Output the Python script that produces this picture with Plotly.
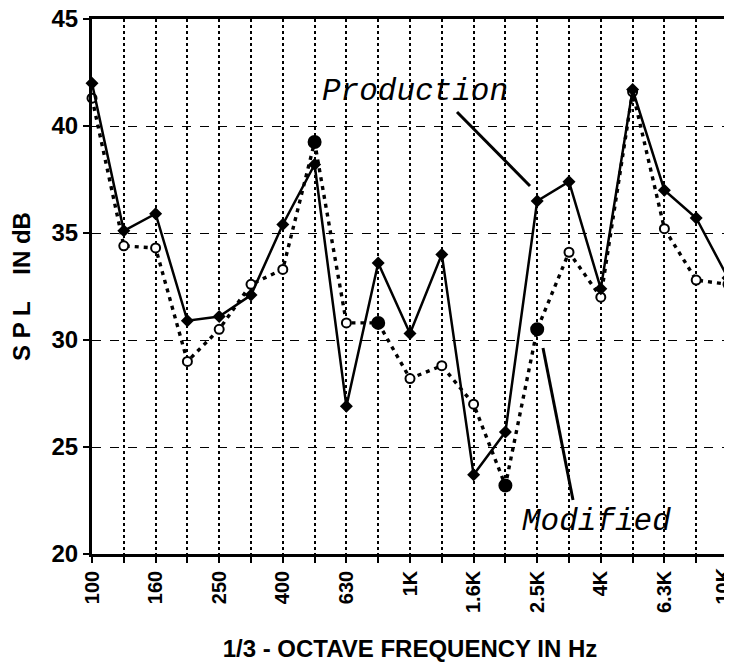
import plotly.graph_objects as go

# ---- data ----
frequencies = ["100", "125", "160", "200", "250", "315", "400", "500", "630", "800",
               "1K", "1.25K", "1.6K", "2K", "2.5K", "3.15K", "4K", "5K", "6.3K", "8K", "10K"]
tick_labels = ["100", "", "160", "", "250", "", "400", "", "630", "",
               "1K", "", "1.6K", "", "2.5K", "", "4K", "", "6.3K", "", "10K"]
production_spl = [42.0, 35.1, 35.9, 30.9, 31.1, 32.1, 35.4, 38.2, 26.9, 33.6,
                  30.3, 34.0, 23.7, 25.7, 36.5, 37.4, 32.4, 41.7, 37.0, 35.7, 32.9]
modified_spl = [41.3, 34.4, 34.3, 29.0, 30.5, 32.6, 33.3, 39.25, 30.8, 30.8,
                28.2, 28.8, 27.0, 23.2, 30.5, 34.1, 32.0, 41.6, 35.2, 32.8, 32.6]
modified_filled = ["500", "800", "2K", "2.5K"]
y_ticks = [20, 25, 30, 35, 40, 45]

# ---- layout geometry ----
# The page body adds an 8 px offset, so the figure is 8 px smaller than the window.
OFF = 8
W, H = 732 - OFF, 662 - OFF
ML, MT = 92 - OFF, 19 - OFF
MR = 4
MB = H - (554 - OFF)
PW, PH = W - ML - MR, H - MT - MB


def px(x):
    """page x pixel -> paper fraction"""
    return (x - OFF - ML) / PW


def py(y):
    """page y pixel -> paper fraction"""
    return (H - MB - (y - OFF)) / PH


mod_fill = ["black" if f in modified_filled else "white" for f in frequencies]
mod_size = [12 if f in modified_filled else 9 for f in frequencies]

fig = go.Figure()
fig.add_trace(go.Scatter(
    x=frequencies, y=modified_spl, mode="lines+markers",
    line=dict(color="black", width=3.4, dash="4px,5px"),
    marker=dict(symbol="circle", size=mod_size, color=mod_fill, opacity=1,
                line=dict(color="black", width=2)),
    cliponaxis=False, showlegend=False, name="Modified"))
fig.add_trace(go.Scatter(
    x=frequencies, y=production_spl, mode="lines+markers",
    line=dict(color="black", width=2.5),
    marker=dict(symbol="diamond", size=10, color="black", opacity=1),
    cliponaxis=False, showlegend=False, name="Production"))

bold = dict(family="Liberation Sans, Arial, sans-serif", color="black", weight="bold")

# the last label sits at the page edge; it is nudged inward as in the original
shown_ticktext = tick_labels[:-1] + [""]

fig.update_layout(
    width=W, height=H,
    margin=dict(l=ML, r=MR, t=MT, b=MB, pad=0, autoexpand=False),
    paper_bgcolor="white", plot_bgcolor="white",
    xaxis=dict(
        type="category", categoryorder="array", categoryarray=frequencies,
        range=[0, len(frequencies) - 1], automargin=False,
        tickmode="array", tickvals=frequencies, ticktext=shown_ticktext,
        tickangle=-90, tickfont=dict(size=20, **bold), ticklabeloverflow="allow",
        ticks="outside", ticklen=6, tickwidth=2, tickcolor="black",
        showgrid=True, gridcolor="black", gridwidth=2, griddash="dot",
        showline=True, linecolor="black", linewidth=2.5, mirror=True,
        title=dict(text="1/3 - OCTAVE FREQUENCY IN Hz", font=dict(size=24, **bold), standoff=29),
        zeroline=False,
    ),
    yaxis=dict(
        range=[20, 45], tickmode="array", tickvals=y_ticks, automargin=False,
        tickfont=dict(size=24, **bold), ticklabeloverflow="allow",
        ticks="outside", ticklen=6, tickwidth=2, tickcolor="black",
        showgrid=True, gridcolor="black", gridwidth=1.3, griddash="dash",
        showline=True, linecolor="black", linewidth=3, mirror=True,
        title=dict(text="S P L&nbsp;&nbsp;&nbsp;&nbsp;IN dB", font=dict(size=24, **bold), standoff=18),
        zeroline=False,
    ),
    font=dict(family="Liberation Sans, Arial, sans-serif", color="black"),
)

fig.add_annotation(text=tick_labels[-1], xref="paper", yref="paper",
                   x=px(722), y=py(566), textangle=-90, showarrow=False,
                   font=dict(size=20, **bold), xanchor="center", yanchor="top")

# annotation labels and leader lines
mono = dict(family="Liberation Mono, Courier New, monospace", size=31, color="black", style="italic")
fig.add_annotation(text="Production", xref="paper", yref="paper",
                   x=px(415), y=py(92), showarrow=False, font=mono,
                   xanchor="center", yanchor="middle")
fig.add_annotation(text="Modified", xref="paper", yref="paper",
                   x=px(596), y=py(521), showarrow=False, font=mono,
                   xanchor="center", yanchor="middle")
fig.add_shape(type="line", xref="paper", yref="paper",
              x0=px(457), y0=py(112), x1=px(530), y1=py(186),
              line=dict(color="black", width=3))
fig.add_shape(type="line", xref="paper", yref="paper",
              x0=px(543), y0=py(348), x1=px(573), y1=py(500),
              line=dict(color="black", width=3))

fig.write_html("out.html")
